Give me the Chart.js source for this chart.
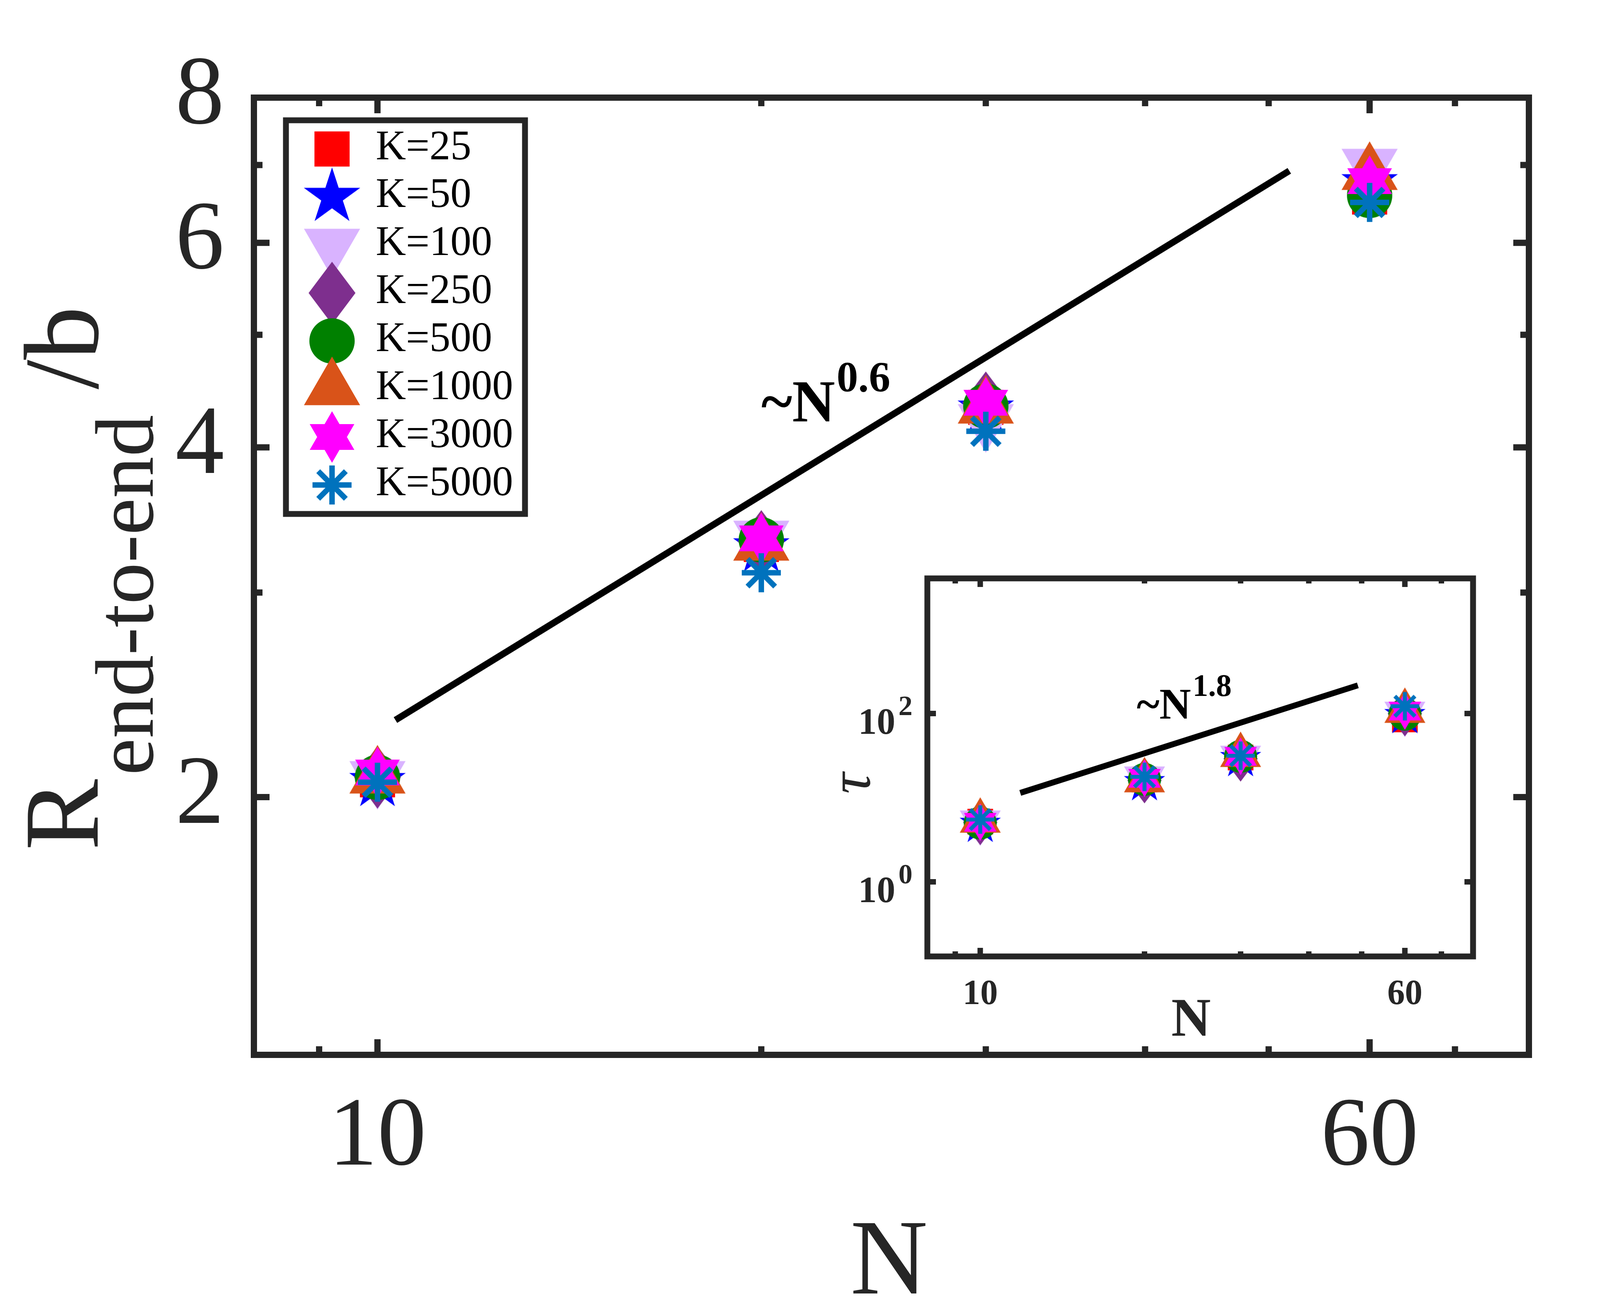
<!DOCTYPE html>
<html lang="en">
<head>
<meta charset="UTF-8">
<title>R end-to-end / b versus N</title>
<script src="https://cdn.jsdelivr.net/npm/chart.js@4.4.1/dist/chart.umd.min.js"></script>
<style>
    html, body { margin: 0; padding: 0; background: #fff; }
    #wrap { position: relative; width: 4325px; height: 3362px; }
    #mainChart { position: absolute; left: 0; top: 0; }
    #insetChart { position: absolute; left: 2100px; top: 1400px; }
</style>
</head>
<body>
<div id="wrap">
    <canvas id="mainChart" width="4325" height="3362"></canvas>
    <canvas id="insetChart" width="1800" height="1320"></canvas>
</div>

<script>
    // ---- data ----
    const nValues = [10, 20, 30, 60];
    const kLabels = ['K=25', 'K=50', 'K=100', 'K=250', 'K=500', 'K=1000', 'K=3000', 'K=5000'];

    // R_end-to-end / b  (main plot)
    const rK25   = [2.07, 3.30, 4.33, 6.57];
    const rK50   = [2.06, 3.28, 4.31, 6.75];
    const rK100  = [2.08, 3.35, 4.22, 7.00];
    const rK250  = [2.08, 3.32, 4.37, 6.70];
    const rK500  = [2.08, 3.33, 4.34, 6.59];
    const rK1000 = [2.08, 3.30, 4.33, 6.88];
    const rK3000 = [2.10, 3.34, 4.37, 6.78];
    const rK5000 = [2.06, 3.12, 4.13, 6.50];

    // tau  (inset)
    const tauK25   = [5.2, 16.5, 30, 85];
    const tauK50   = [4.8, 15.0, 29, 94];
    const tauK100  = [5.1, 17.0, 30, 100];
    const tauK250  = [5.1, 16.0, 29, 100];
    const tauK500  = [5.0, 16.5, 31, 98];
    const tauK1000 = [5.3, 16.0, 32, 107];
    const tauK3000 = [5.1, 17.0, 31, 107];
    const tauK5000 = [5.5, 17.7, 31.5, 122];

    // guide lines
    const fitN = [10.33, 51.9];
    const fitR = [2.33, 6.92];
    const fitTauN = [11.84, 49.2];
    const fitTau = [11.4, 216];

    // ticks
    const xTicks = [10, 60];
    const xMinorTicks = [9, 20, 30, 40, 50, 70];
    const yTicks = [2, 4, 6, 8];
    const yMinorTicks = [3, 5, 7];
    const tauTicks = [1, 100];

    const rSeries = [rK25, rK50, rK100, rK250, rK500, rK1000, rK3000, rK5000];
    const tauSeries = [tauK25, tauK50, tauK100, tauK250, tauK500, tauK1000, tauK3000, tauK5000];

    const markerColors = ['#FF0000', '#0000FF', '#D9B3FF', '#7E2F8E', '#008000', '#D95319', '#FF00FF', '#0072BD'];
    const markerKinds = ['square', 'star5', 'triDown', 'diamond', 'circle', 'triUp', 'hexagram', 'asterisk'];

    const AXIS = '#262626';
    const SERIF = '"Liberation Serif", "Times New Roman", serif';

    // MATLAB-like marker shapes drawn once into small canvases
    function makeMarker(kind, color, s) {
        const size = Math.ceil(180 * s);
        const c = document.createElement('canvas');
        c.width = size;
        c.height = size;
        const g = c.getContext('2d');
        const cx = size / 2, cy = size / 2;
        g.fillStyle = color;
        g.strokeStyle = color;
        g.beginPath();
        if (kind === 'square') {
            const h = 45 * s;
            g.rect(cx - h, cy - h, 2 * h, 2 * h);
            g.fill();
        } else if (kind === 'circle') {
            g.arc(cx, cy, 58 * s, 0, Math.PI * 2);
            g.fill();
        } else if (kind === 'triUp' || kind === 'triDown') {
            const r = 83 * s, d = kind === 'triUp' ? -1 : 1;
            g.moveTo(cx, cy + d * r);
            g.lineTo(cx - r * Math.sqrt(3) / 2, cy - d * r / 2);
            g.lineTo(cx + r * Math.sqrt(3) / 2, cy - d * r / 2);
            g.closePath();
            g.fill();
        } else if (kind === 'diamond') {
            g.moveTo(cx, cy - 80 * s);
            g.lineTo(cx + 60 * s, cy);
            g.lineTo(cx, cy + 80 * s);
            g.lineTo(cx - 60 * s, cy);
            g.closePath();
            g.fill();
        } else if (kind === 'star5') {
            const R = 76 * s, r = R * 0.382;
            for (let k = 0; k < 10; k++) {
                const a = -Math.PI / 2 + k * Math.PI / 5;
                const rr = k % 2 === 0 ? R : r;
                const px = cx + rr * Math.cos(a), py = cy + rr * Math.sin(a);
                if (k === 0) g.moveTo(px, py); else g.lineTo(px, py);
            }
            g.closePath();
            g.fill();
        } else if (kind === 'hexagram') {
            const R = 66 * s;
            [-90, 90].forEach(function (start) {
                for (let k = 0; k < 3; k++) {
                    const a = (start + k * 120) * Math.PI / 180;
                    const px = cx + R * Math.cos(a), py = cy + R * Math.sin(a);
                    if (k === 0) g.moveTo(px, py); else g.lineTo(px, py);
                }
                g.closePath();
            });
            g.fill();
        } else if (kind === 'asterisk') {
            const arm = 50 * s;
            g.lineWidth = 14 * s;
            for (let k = 0; k < 4; k++) {
                const a = k * Math.PI / 4;
                g.moveTo(cx - arm * Math.cos(a), cy - arm * Math.sin(a));
                g.lineTo(cx + arm * Math.cos(a), cy + arm * Math.sin(a));
            }
            g.stroke();
        }
        return c;
    }

    const mainMarkers = markerKinds.map((k, i) => makeMarker(k, markerColors[i], 1));
    const insetMarkers = markerKinds.map((k, i) => makeMarker(k, markerColors[i], 0.73));

    function buildDatasets(series, markers, lineX, lineY, lineWidth) {
        const sets = kLabels.map(function (lab, i) {
            return {
                label: lab,
                data: nValues.map((n, j) => ({ x: n, y: series[i][j] })),
                pointStyle: markers[i],
                pointRadius: 30,
                pointHoverRadius: 30,
                order: kLabels.length - i
            };
        });
        sets.push({
            label: 'fit',
            data: lineX.map((n, j) => ({ x: n, y: lineY[j] })),
            showLine: true,
            borderColor: '#000',
            borderWidth: lineWidth,
            pointRadius: 0,
            order: 20
        });
        return sets;
    }

    // inward ticks on all four sides + box
    function drawFrame(chart, xMajor, xMinor, yMajor, yMinor, lenMajor, lenMinor, tickW, boxW) {
        const { ctx, chartArea: a, scales: { x, y } } = chart;
        ctx.save();
        ctx.strokeStyle = AXIS;
        ctx.lineWidth = tickW;
        ctx.beginPath();
        function xt(v, len) {
            const px = x.getPixelForValue(v);
            ctx.moveTo(px, a.bottom); ctx.lineTo(px, a.bottom - len);
            ctx.moveTo(px, a.top); ctx.lineTo(px, a.top + len);
        }
        function yt(v, len) {
            const py = y.getPixelForValue(v);
            ctx.moveTo(a.left, py); ctx.lineTo(a.left + len, py);
            ctx.moveTo(a.right, py); ctx.lineTo(a.right - len, py);
        }
        xMajor.forEach(v => xt(v, lenMajor));
        xMinor.forEach(v => xt(v, lenMinor));
        yMajor.forEach(v => yt(v, lenMajor));
        yMinor.forEach(v => yt(v, lenMinor));
        ctx.stroke();
        ctx.lineWidth = boxW;
        ctx.strokeRect(a.left, a.top, a.right - a.left, a.bottom - a.top);
        ctx.restore();
    }

    // text with a raised exponent
    function powerText(ctx, x0, y0, base, sup, baseFont, supFont, rise) {
        ctx.font = baseFont;
        ctx.fillText(base, x0, y0);
        const w = ctx.measureText(base).width;
        ctx.font = supFont;
        ctx.fillText(sup, x0 + w + 4, y0 - rise);
    }

    const mainDecor = {
        id: 'mainDecor',
        afterDraw(chart) {
            const { ctx, scales: { x, y } } = chart;
            drawFrame(chart, xTicks, xMinorTicks, yTicks.slice(0, 3), yMinorTicks, 40, 22, 16, 16);

            ctx.save();
            ctx.fillStyle = AXIS;
            ctx.textAlign = 'left';
            ctx.textBaseline = 'alphabetic';

            // x title
            ctx.font = '275px ' + SERIF;
            ctx.textAlign = 'center';
            ctx.fillText('N', 2276, 3312);
            ctx.textAlign = 'left';

            // y title: R_{end-to-end}/b
            ctx.save();
            ctx.translate(250, 2177);
            ctx.rotate(-Math.PI / 2);
            ctx.font = '273px ' + SERIF;
            ctx.fillText('R', 0, 0);
            ctx.font = '213px ' + SERIF;
            ctx.fillText('end-to-end', 192, 141);
            ctx.font = '273px ' + SERIF;
            ctx.fillText('/b', 1180, 0);
            ctx.restore();

            // ~N^0.6 label
            ctx.fillStyle = '#000';
            powerText(ctx, x.getPixelForValue(20.0), y.getPixelForValue(4.21), '~N', '0.6',
                'bold 152px ' + SERIF, 'bold 110px ' + SERIF, 77);

            // legend
            const lx0 = 732, ly0 = 308, lx1 = 1344, ly1 = 1316;
            ctx.fillStyle = '#fff';
            ctx.fillRect(lx0, ly0, lx1 - lx0, ly1 - ly0);
            ctx.strokeStyle = AXIS;
            ctx.lineWidth = 15;
            ctx.strokeRect(lx0, ly0, lx1 - lx0, ly1 - ly0);
            ctx.fillStyle = '#000';
            ctx.font = '107px ' + SERIF;
            kLabels.forEach(function (lab, i) {
                const cy = 381.5 + i * 122.9;
                const m = mainMarkers[i];
                ctx.drawImage(m, 850 - m.width / 2, cy - m.height / 2);
                ctx.fillText(lab, 962, cy + 26);
            });
            ctx.restore();
        }
    };

    const mainChart = new Chart(document.getElementById('mainChart'), {
        type: 'scatter',
        data: { datasets: buildDatasets(rSeries, mainMarkers, fitN, fitR, 17) },
        options: {
            responsive: false,
            devicePixelRatio: 1,
            animation: false,
            events: [],
            layout: { padding: { left: 0, top: 250, right: 411, bottom: 0 } },
            plugins: { legend: { display: false }, tooltip: { enabled: false } },
            scales: {
                x: {
                    type: 'logarithmic',
                    min: 8,
                    max: 80,
                    grid: { display: false, drawTicks: false },
                    border: { display: false },
                    ticks: {
                        color: AXIS,
                        font: { family: SERIF, size: 250 },
                        padding: 65,
                        maxRotation: 0,
                        autoSkip: false,
                        callback: v => String(v)
                    },
                    afterBuildTicks: s => { s.ticks = xTicks.map(v => ({ value: v })); },
                    afterFit: s => { s.height = 661; }
                },
                y: {
                    type: 'logarithmic',
                    min: 1.2,
                    max: 8,
                    grid: { display: false, drawTicks: false },
                    border: { display: false },
                    ticks: {
                        color: AXIS,
                        font: { family: SERIF, size: 250 },
                        padding: 76,
                        autoSkip: false,
                        callback: v => String(v)
                    },
                    afterBuildTicks: s => { s.ticks = yTicks.map(v => ({ value: v })); },
                    afterFit: s => { s.width = 650; }
                }
            }
        },
        plugins: [mainDecor]
    });

    const insetDecor = {
        id: 'insetDecor',
        beforeDraw(chart) {
            const { ctx, chartArea: a } = chart;
            ctx.save();
            ctx.fillStyle = '#fff';
            ctx.fillRect(a.left, a.top, a.right - a.left, a.bottom - a.top);
            ctx.restore();
        },
        afterDraw(chart) {
            const { ctx, scales: { x, y } } = chart;
            drawFrame(chart, xTicks, xMinorTicks, tauTicks, [], 22, 13, 14, 15);

            ctx.save();
            ctx.fillStyle = AXIS;
            ctx.textBaseline = 'alphabetic';

            // y tick labels 10^n
            tauTicks.forEach(function (v) {
                const py = y.getPixelForValue(v);
                ctx.textAlign = 'right';
                ctx.font = 'bold 95px ' + SERIF;
                ctx.fillText('10', 192, py + 52);
                ctx.textAlign = 'left';
                ctx.font = 'bold 72px ' + SERIF;
                ctx.fillText(String(Math.round(Math.log10(v))), 200, py + 4);
            });

            // x title
            ctx.textAlign = 'center';
            ctx.font = 'bold 140px ' + SERIF;
            ctx.fillText('N', 949, 1252);

            // y title tau
            ctx.save();
            ctx.translate(88, 606);
            ctx.rotate(-Math.PI / 2);
            ctx.textBaseline = 'middle';
            ctx.font = 'italic 150px ' + SERIF;
            ctx.fillText('τ', 0, 0);
            ctx.restore();

            // ~N^1.8 label
            ctx.textAlign = 'left';
            ctx.fillStyle = '#000';
            powerText(ctx, x.getPixelForValue(19.35), y.getPixelForValue(87), '~N', '1.8',
                'bold 112px ' + SERIF, 'bold 80px ' + SERIF, 58);
            ctx.restore();
        }
    };

    const insetChart = new Chart(document.getElementById('insetChart'), {
        type: 'scatter',
        data: { datasets: buildDatasets(tauSeries, insetMarkers, fitTauN, fitTau, 15) },
        options: {
            responsive: false,
            devicePixelRatio: 1,
            animation: false,
            events: [],
            layout: { padding: { left: 0, top: 81, right: 129, bottom: 0 } },
            plugins: { legend: { display: false }, tooltip: { enabled: false } },
            scales: {
                x: {
                    type: 'logarithmic',
                    min: 8,
                    max: 80,
                    grid: { display: false, drawTicks: false },
                    border: { display: false },
                    ticks: {
                        color: AXIS,
                        font: { family: SERIF, size: 90, weight: 'bold' },
                        padding: 45,
                        maxRotation: 0,
                        autoSkip: false,
                        callback: v => String(v)
                    },
                    afterBuildTicks: s => { s.ticks = xTicks.map(v => ({ value: v })); },
                    afterFit: s => { s.height = 271; }
                },
                y: {
                    type: 'logarithmic',
                    min: 0.13,
                    max: 4030,
                    grid: { display: false, drawTicks: false },
                    border: { display: false },
                    ticks: { display: false },
                    afterBuildTicks: s => { s.ticks = tauTicks.map(v => ({ value: v })); },
                    afterFit: s => { s.width = 274; }
                }
            }
        },
        plugins: [insetDecor]
    });
</script>
</body>
</html>
